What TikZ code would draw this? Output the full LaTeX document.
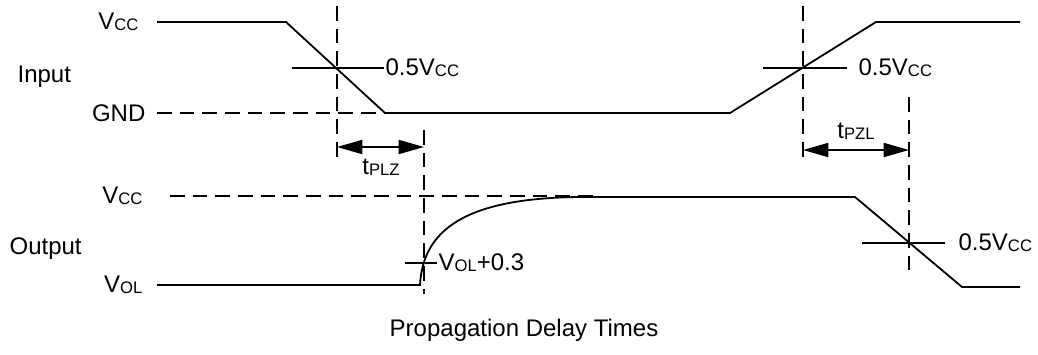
\documentclass[tikz,border=0pt]{standalone}
\usepackage{fontspec}
\setmainfont{Liberation Sans}
\usetikzlibrary{arrows.meta}
\newcommand{\smallsub}[1]{\raisebox{-0.08ex}{\fontsize{12.5}{13}\selectfont #1}}
\tikzset{
  sig/.style={line width=1.35pt,line join=miter},
  guide/.style={line width=1.35pt,dash pattern=on 11pt off 6pt},
  tick/.style={line width=1.35pt},
  lbl/.style={font=\fontsize{18}{20}\selectfont,inner sep=1pt},
  dim/.style={line width=1.35pt,{Triangle[length=19pt,width=10.5pt]}-{Triangle[length=19pt,width=10.5pt]}},
}
\begin{document}
\begin{tikzpicture}[x=0.75pt,y=-0.75pt]
  \useasboundingbox (0,0) rectangle (1038,354);
  % level labels
  \node[lbl,anchor=east] (vccin) at (140,22) {V\smallsub{CC}};
  \node[lbl,anchor=west] (input) at (16,77) {Input};
  \node[lbl,anchor=east] (gnd)   at (147,113) {GND};
  \node[lbl,anchor=east] (vccout)at (144,196) {V\smallsub{CC}};
  \node[lbl,anchor=west] (output)at (8,249) {Output};
  \node[lbl,anchor=east] (vol)   at (144,285) {V\smallsub{OL}};
  % reference levels
  \coordinate (gA) at (157,113); \coordinate (gB) at (540,113);
  \draw[guide](gA)--(gB);
  \coordinate (hA) at (170,196); \coordinate (hB) at (593,196);
  \draw[guide](hA)--(hB);
  % input waveform
  \coordinate (i0) at (157,22);  \coordinate (i1) at (286,22);
  \coordinate (i2) at (385,113); \coordinate (i3) at (730,113);
  \coordinate (i4) at (876,22);  \coordinate (i5) at (1020,22);
  \draw[sig](i0)--(i1)--(i2)--(i3)--(i4)--(i5);
  % output waveform
  \coordinate (o0) at (157,285); \coordinate (o1) at (420,285);
  \coordinate (o2) at (580,197); \coordinate (o3) at (855,197);
  \coordinate (o4) at (962,287); \coordinate (o5) at (1020,287);
  \draw[sig](o0)--(o1) .. controls (423,230) and (465,198) .. (o2)--(o3)--(o4)--(o5);
  % timing markers
  \coordinate (m1a) at (337,6);   \coordinate (m1b) at (337,158); \draw[guide](m1a)--(m1b);
  \coordinate (m2a) at (424,130); \coordinate (m2b) at (424,294); \draw[guide](m2a)--(m2b);
  \coordinate (m3a) at (803,6);   \coordinate (m3b) at (803,158); \draw[guide](m3a)--(m3b);
  \coordinate (m4a) at (909,97);  \coordinate (m4b) at (909,272); \draw[guide](m4a)--(m4b);
  % threshold ticks
  \coordinate (k1a) at (292,68); \node[lbl,anchor=west] (th1) at (384,68) {0.5V\smallsub{CC}};
  \draw[tick](k1a)--(th1.west);
  \coordinate (k2a) at (763,68); \coordinate (k2b) at (847,68);
  \node[lbl,anchor=west] (th2) at (857,68) {0.5V\smallsub{CC}};
  \draw[tick](k2a)--(k2b);
  \coordinate (k3a) at (862,243); \coordinate (k3b) at (945,243);
  \node[lbl,anchor=west] (th3) at (957,243) {0.5V\smallsub{CC}};
  \draw[tick](k3a)--(k3b);
  \coordinate (k4a) at (405,263); \node[lbl,anchor=west] (th4) at (437,263) {V\smallsub{OL}+0.3};
  \draw[tick](k4a)--(th4.west);
  % delay intervals
  \coordinate (d1a) at (337,147); \coordinate (d1b) at (424,147);
  \draw[dim](d1a)--(d1b);
  \node[lbl] (tplz) at (381,167) {t\smallsub{PLZ}};
  \coordinate (d2a) at (803,150); \coordinate (d2b) at (909,150);
  \draw[dim](d2a)--(d2b);
  \node[lbl] (tpzl) at (856,131) {t\smallsub{PZL}};
  % caption
  \node[lbl] (caption) at (524,330) {Propagation Delay Times};
\end{tikzpicture}
\end{document}
